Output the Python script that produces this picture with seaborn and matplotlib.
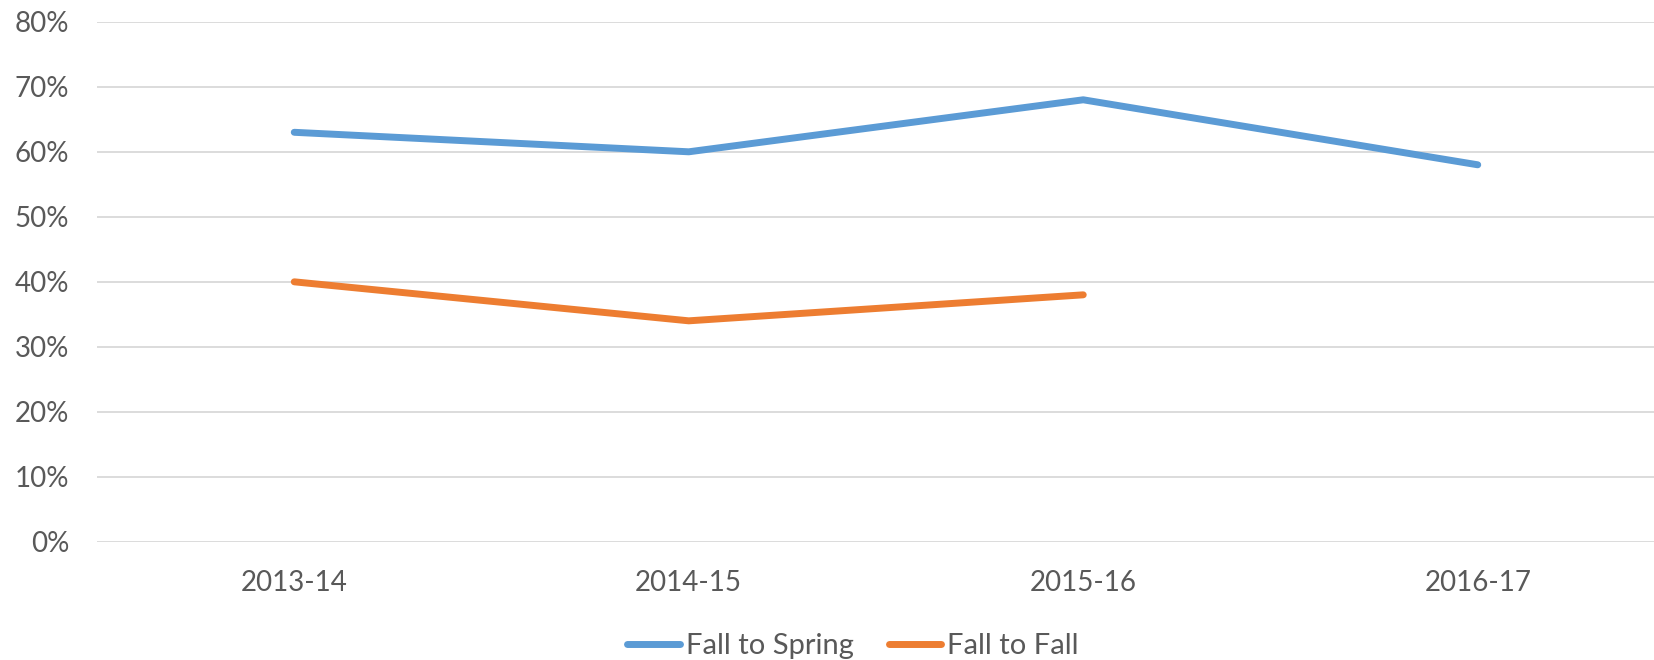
import numpy as np
import pandas as pd
import seaborn as sns
import matplotlib.pyplot as plt
from matplotlib.ticker import PercentFormatter

years = ["2013-14", "2014-15", "2015-16", "2016-17"]
fall_to_spring = [0.63, 0.60, 0.68, 0.58]
fall_to_fall = [0.40, 0.34, 0.38, np.nan]

df = pd.DataFrame({
    "year": years * 2,
    "rate": fall_to_spring + fall_to_fall,
    "series": ["Fall to Spring"] * 4 + ["Fall to Fall"] * 4,
})

sns.set_style("white")
plt.rcParams["font.family"] = ["Lato", "DejaVu Sans"]

fig = plt.figure(figsize=(16.54, 6.6), dpi=100)
ax = fig.add_axes([97 / 1654, 0.179, 1578 / 1654, 0.788])

sns.lineplot(data=df, x="year", y="rate", hue="series",
             palette={"Fall to Spring": "#5B9BD5", "Fall to Fall": "#ED7D31"},
             linewidth=5, solid_capstyle="round", sort=False, ax=ax, legend=False)

ax.set_xlim(-0.5, 3.5)
ax.set_ylim(0, 0.8)
ax.set_yticks(np.arange(0, 0.81, 0.1))
ax.yaxis.set_major_formatter(PercentFormatter(1.0, decimals=0))
ax.grid(axis="y", color="#d9d9d9", linewidth=1.3)
ax.set_axisbelow(True)
for s in ax.spines.values():
    s.set_visible(False)
ax.tick_params(axis="both", length=0, labelsize=20, labelcolor="#595959")
ax.tick_params(axis="y", pad=20)
ax.tick_params(axis="x", pad=20)
ax.set_xlabel("")
ax.set_ylabel("")

handles = [plt.Line2D([], [], color="#5B9BD5", lw=5, solid_capstyle="round"),
           plt.Line2D([], [], color="#ED7D31", lw=5, solid_capstyle="round")]
fig.legend(handles, ["Fall to Spring", "Fall to Fall"], loc="center",
           bbox_to_anchor=(853 / 1654, 1 - 646 / 660), ncol=2, frameon=False,
           fontsize=21, labelcolor="#595959", handlelength=1.8,
           handletextpad=0.2, columnspacing=1.2)

fig.savefig("out.png", dpi=100)
